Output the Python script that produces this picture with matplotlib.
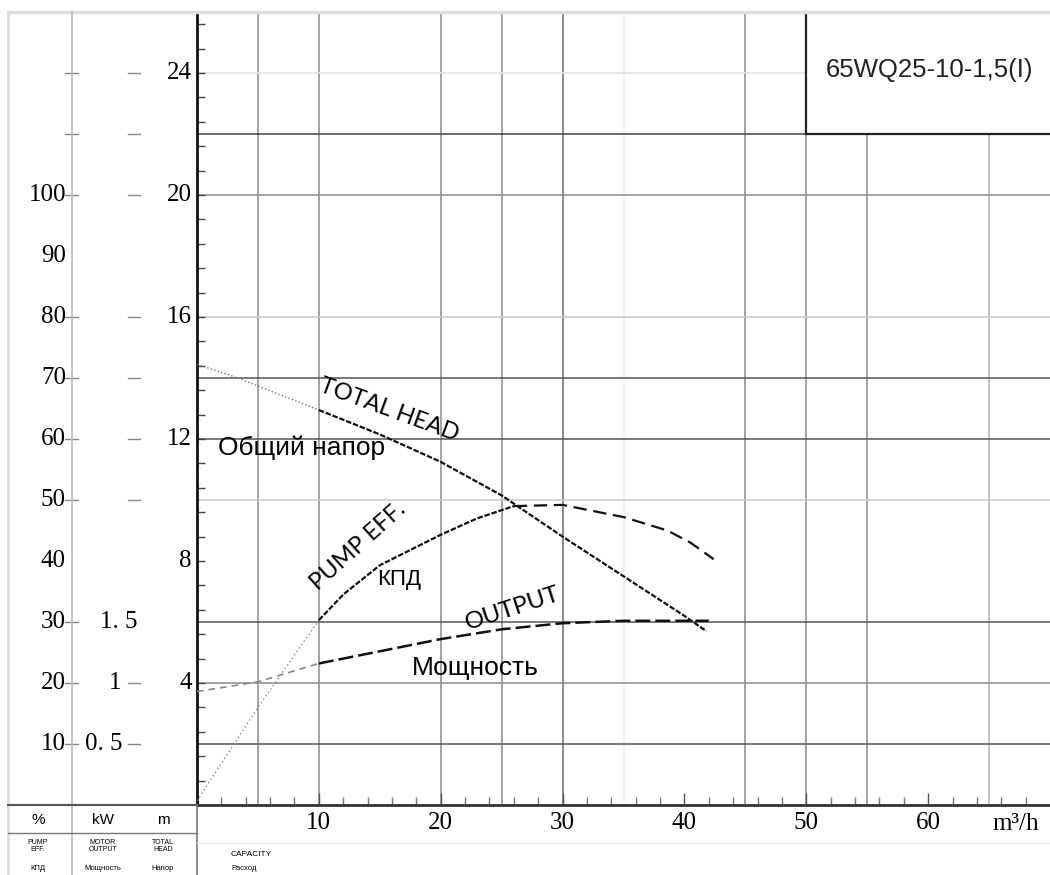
import numpy as np
import matplotlib.pyplot as plt
from matplotlib.patches import Rectangle
from matplotlib.lines import Line2D

W, H = 1050, 875

# характеристики насоса 65WQ25-10-1,5(I), подача в м3/ч
q_head_dot = [0, 3, 10]
head_dot = [14.45, 14.05, 12.95]
q_head = [10, 15, 20, 25, 30, 35, 40, 41.8]
head = [12.95, 12.15, 11.25, 10.15, 8.8, 7.5, 6.2, 5.7]

q_eff_dot = [0, 5, 10]
eff_dot = [0.7, 16, 30.3]
q_eff = [10, 12, 15, 20, 23, 26]
eff = [30.3, 34.5, 39.3, 44.3, 47.0, 49.0]
q_eff2 = [26, 30, 35, 38.6, 40.5, 42.4]
eff2 = [49.0, 49.2, 47.2, 45.0, 43.0, 40.3]

q_pow_dot = [0, 5, 10]
pow_dot = [0.93, 1.01, 1.16]
q_pow = [10, 15, 20, 25, 30, 35, 42]
pw = [1.16, 1.26, 1.36, 1.44, 1.49, 1.51, 1.51]

# шкалы
x_ticks = [10, 20, 30, 40, 50, 60]
pct_labels = [10, 20, 30, 40, 50, 60, 70, 80, 90, 100]
pct_ticks = [10, 20, 30, 50, 60, 70, 80, 100, 110, 120]
head_labels = [4, 8, 12, 16, 20, 24]
kw_labels = [(0.5, '0. 5', 123), (1, '1', 121), (1.5, '1. 5', 138)]
mid_ticks = [2, 4, 10, 12, 14, 16, 20, 22, 24]

grid_q = {5: '#8a8a8a', 10: '#8a8a8a', 20: '#8a8a8a', 25: '#8a8a8a', 30: '#6a6a6a',
          35: '#eeeeee', 45: '#8a8a8a', 50: '#8a8a8a', 55: '#8a8a8a', 65: '#b5b5b5'}
grid_h = {2: '#555555', 4: '#8a8a8a', 6: '#555555', 10: '#c8c8c8', 12: '#555555',
          14: '#555555', 16: '#c8c8c8', 20: '#8a8a8a', 22: '#444444', 24: '#e0e0e0'}

PCT_PER_M = 5
KW_PER_M = 0.25

serif = 'Liberation Serif'
sans = 'Liberation Sans'
cal = 'Lato'

fig = plt.figure(figsize=(W / 100, H / 100), dpi=100)

ax = fig.add_axes([197 / W, 70 / H, 853 / W, 793 / H])
ax.set_xlim(0, 70)
ax.set_ylim(0, 26)

for q, c in grid_q.items():
    ax.axvline(q, color=c, lw=1.1, zorder=1)
for h, c in grid_h.items():
    ax.axhline(h, color=c, lw=1.1, zorder=1)

# табличка с маркой насоса
ax.add_patch(Rectangle((50, 22), 25, 6, facecolor='white', edgecolor='none', zorder=2))
ax.plot([50, 50], [22, 26], color='#222', lw=1.6, zorder=3, clip_on=False)
ax.plot([50, 70], [22, 22], color='#222', lw=1.6, zorder=3)
ax.text(60.1, 24.1, '65WQ25-10-1,5(I)', ha='center', va='center', fontsize=18.5,
        family=sans, color='#222', zorder=4)

ax_eff = ax.twinx()
ax_eff.set_ylim(0, 26 * PCT_PER_M)
ax_pow = ax.twinx()
ax_pow.set_ylim(0, 26 * KW_PER_M)
for a in (ax_eff, ax_pow):
    a.axis('off')

ax.plot(q_head_dot, head_dot, color='#777', lw=1.0, ls=(0, (1, 1.6)), zorder=5)
ax.plot(q_head, head, color='#111', lw=1.6, ls=(0, (2.5, 0.8)), zorder=5)
ax_eff.plot(q_eff_dot, eff_dot, color='#888', lw=1.0, ls=(0, (1, 2)), zorder=5)
ax_eff.plot(q_eff, eff, color='#111', lw=1.6, ls=(0, (2.5, 0.8)), zorder=5)
ax_eff.plot(q_eff2, eff2, color='#111', lw=1.6, ls=(0, (6, 3)), zorder=5)
ax_pow.plot(q_pow_dot, pow_dot, color='#888', lw=1.2, ls=(0, (4, 3)), zorder=5)
ax_pow.plot(q_pow, pw, color='#111', lw=1.8, ls=(0, (6, 2)), zorder=5)

ax.text(15.8, 12.95, 'TOTAL HEAD', rotation=-20, ha='center', va='center',
        fontsize=17, family=cal, zorder=6)
ax.text(1.7, 11.7, 'Общий напор', ha='left', va='center', fontsize=19, family=sans, zorder=6)
ax.text(13.2, 8.5, 'PUMP EFF.', rotation=42, ha='center', va='center',
        fontsize=17, family=cal, zorder=6)
ax.text(16.6, 7.4, 'КПД', ha='center', va='center', fontsize=16, family=sans, zorder=6)
ax.text(25.9, 6.45, 'OUTPUT', rotation=18, ha='center', va='center',
        fontsize=17.5, family=cal, zorder=6)
ax.text(22.8, 4.5, 'Мощность', ha='center', va='center', fontsize=19, family=sans, zorder=6)

ax.set_xticks(x_ticks)
ax.set_xticklabels([str(v) for v in x_ticks], family=serif, fontsize=18)
ax.set_xticks(np.arange(2, 70, 2), minor=True)
ax.tick_params(axis='x', which='major', direction='in', length=9, width=1, color='#555', pad=5)
ax.tick_params(axis='x', which='minor', direction='in', length=6, width=1, color='#777')
ax.set_yticks([])
ax.set_yticks(np.arange(0.8, 26, 0.8), minor=True)
ax.tick_params(axis='y', which='minor', direction='in', length=6, width=1, color='#444')
ax.text(67.2, -0.25, 'm³/h', ha='center', va='top', fontsize=18, family=serif, clip_on=False)
for s in ('top', 'right'):
    ax.spines[s].set_visible(False)
ax.spines['left'].set_linewidth(2)
ax.spines['left'].set_color('#111')
ax.spines['bottom'].set_linewidth(2)
ax.spines['bottom'].set_color('#333')

# левая панель со шкалами
lp = fig.add_axes([0, 70 / H, 197 / W, 793 / H])
lp.set_xlim(0, 197)
lp.set_ylim(0, 26)
lp.axis('off')
for p in pct_labels:
    lp.text(66, p / PCT_PER_M, str(p), ha='right', va='center', fontsize=18, family=serif)
for p in pct_ticks:
    lp.plot([65, 78], [p / PCT_PER_M] * 2, color='#888', lw=1)
for h in head_labels:
    lp.text(192, h, str(h), ha='right', va='center', fontsize=18, family=serif)
for kw, t, xr in kw_labels:
    lp.text(xr, kw / KW_PER_M, t, ha='right', va='center', fontsize=18, family=serif)
for h in mid_ticks:
    lp.plot([128, 140], [h, h], color='#888', lw=1)


def fl(x0, y0, x1, y1, **kw):
    fig.add_artist(Line2D([x0 / W, x1 / W], [1 - y0 / H, 1 - y1 / H],
                          transform=fig.transFigure, **kw))


fl(8, 12, W, 12, color='#dddddd', lw=2.5)
fl(8, 12, 8, H, color='#dddddd', lw=2)
fl(72, 12, 72, H, color='#bbbbbb', lw=1.2)
fl(8, 805, 197, 805, color='#555555', lw=1.5)
fl(8, 833, 197, 833, color='#777777', lw=1)
fl(197, 805, 197, H, color='#777777', lw=1.2)
fl(197, 843, W, 843, color='#eeeeee', lw=1)

for x, t in [(38, '%'), (103, 'kW'), (163, 'm')]:
    fig.text(x / W, 1 - 820 / H, t, ha='center', va='center', fontsize=11, family=sans)
for x, t in [(38, 'PUMP\nEFF.'), (103, 'MOTOR\nOUTPUT'), (163, 'TOTAL\nHEAD')]:
    fig.text(x / W, 1 - 846 / H, t, ha='center', va='center', fontsize=5,
             family=sans, linespacing=1.0)
for x, t in [(38, 'КПД'), (103, 'Мощность'), (163, 'Напор')]:
    fig.text(x / W, 1 - 869 / H, t, ha='center', va='center', fontsize=5.5, family=sans)
fig.text(231 / W, 1 - 855 / H, 'CAPACITY', ha='left', va='center', fontsize=6, family=sans)
fig.text(231 / W, 1 - 868 / H, 'Расход', ha='left', va='center', fontsize=5.5, family=sans)

fig.savefig('out.png', dpi=100)
